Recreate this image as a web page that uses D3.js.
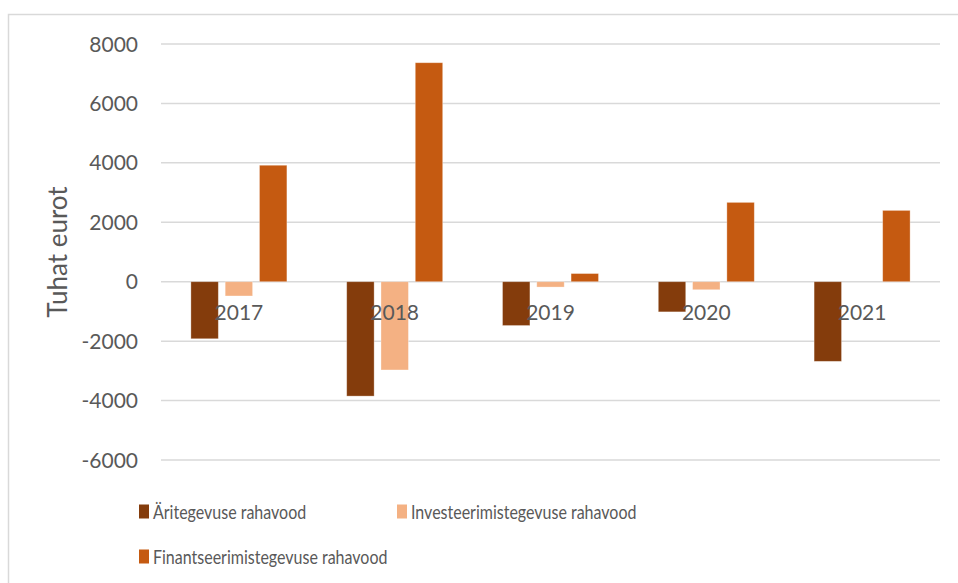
<!DOCTYPE html>
<html>
<head>
<meta charset="utf-8">
<script src="https://cdn.jsdelivr.net/npm/d3@7"></script>
<style>
  body { margin: 0; background: #fff; }
  svg { font-family: Lato, "Open Sans", sans-serif; }
  .grid line { stroke: #d9d9d9; stroke-width: 1.5; }
  .axis text { fill: #595959; }
</style>
</head>
<body>
<svg id="chart" width="958" height="583"></svg>
<script>
// data
const years = ["2017", "2018", "2019", "2020", "2021"];
const seriesNames = ["Äritegevuse rahavood", "Investeerimistegevuse rahavood", "Finantseerimistegevuse rahavood"];
const aritegevus = [-1920, -3850, -1475, -1015, -2680];
const investeerimine = [-480, -2970, -180, -270, 0];
const finantseerimine = [3920, 7370, 275, 2670, 2400];
const yTicks = [8000, 6000, 4000, 2000, 0, -2000, -4000, -6000];
const colors = ["#843c0c", "#f4b183", "#c55a11"];

const series = [aritegevus, investeerimine, finantseerimine];

const svg = d3.select("#chart");
const plotLeft = 161, plotRight = 940, plotTop = 44, plotBottom = 460;

// outer chart border (runs off right and bottom)
svg.append("rect")
   .attr("x", 8.5).attr("y", 14.5)
   .attr("width", 970).attr("height", 600)
   .attr("fill", "none").attr("stroke", "#d9d9d9").attr("stroke-width", 1.5);

var y = d3.scaleLinear().domain([-6000, 8000]).range([plotBottom, plotTop]);
var x = d3.scaleBand().domain(years).range([plotLeft, plotRight]);
var inner = d3.scaleBand().domain([0, 1, 2]).range([0, 96]).paddingInner(0.2);

// gridlines
svg.append("g").attr("class", "grid")
   .selectAll("line").data(yTicks).enter().append("line")
   .attr("x1", plotLeft).attr("x2", plotRight)
   .attr("y1", function(d) { return y(d); })
   .attr("y2", function(d) { return y(d); });

// y tick labels
svg.append("g").attr("class", "axis")
   .selectAll("text").data(yTicks).enter().append("text")
   .attr("x", 138)
   .attr("y", function(d) { return y(d); })
   .attr("dy", "0.36em")
   .attr("text-anchor", "end")
   .style("font-size", "21px")
   .text(function(d) { return d; });

// bars
series.forEach(function(vals, si) {
   svg.append("g")
      .selectAll("rect").data(vals).enter().append("rect")
      .attr("x", function(d, i) { return x(years[i]) + (x.bandwidth() - 96) / 2 + inner(si); })
      .attr("y", function(d) { return y(Math.max(0, d)); })
      .attr("width", inner.bandwidth())
      .attr("height", function(d) { return Math.abs(y(d) - y(0)); })
      .attr("fill", colors[si])
      .attr("stroke", "#fff").attr("stroke-opacity", 0.4).attr("stroke-width", 0.8);
});

// category labels sit just below zero
svg.append("g").attr("class", "axis")
   .selectAll("text").data(years).enter().append("text")
   .attr("x", function(d) { return x(d) + x.bandwidth() / 2; })
   .attr("y", y(0) + 38)
   .attr("text-anchor", "middle")
   .style("font-size", "21px")
   .text(function(d) { return d; });

// y axis title
svg.append("text")
   .attr("transform", "translate(67,252) rotate(-90)")
   .attr("text-anchor", "middle")
   .attr("fill", "#595959")
   .style("font-size", "26px")
   .text("Tuhat eurot");

// legend (reference text is set narrow, so squeeze it horizontally)
const legendPos = [[139, 511.5], [397, 511.5], [139, 556.5]];
seriesNames.forEach(function(name, i) {
   var g = svg.append("g").attr("transform", "translate(" + legendPos[i][0] + "," + legendPos[i][1] + ")");
   g.append("rect").attr("x", 0).attr("y", -7).attr("width", 10).attr("height", 14).attr("fill", colors[i]);
   g.append("text").attr("transform", "translate(14,0) scale(0.8,1)").attr("dy", "0.36em")
      .attr("fill", "#595959").style("font-size", "20px")
      .text(name);
});
</script>
</body>
</html>
